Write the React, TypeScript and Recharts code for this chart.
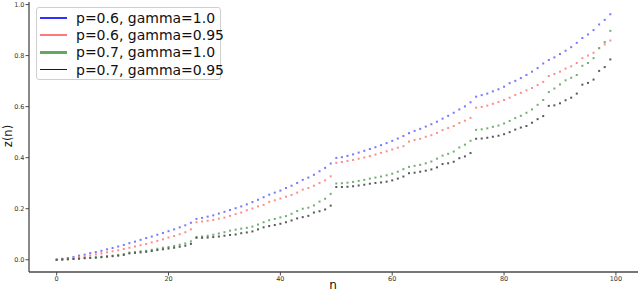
import { ScatterChart, Scatter, XAxis, YAxis } from 'recharts'

// z(n) readings per series, n = 0..99
const zP06G100 = [
  0.000, 0.004, 0.007, 0.011, 0.016, 0.020, 0.026, 0.030, 0.035, 0.041, 0.046, 0.052, 0.058, 0.065, 0.071, 0.078, 0.085, 0.091, 0.098, 0.105, 0.112, 0.119, 0.127, 0.135, 0.145,
  0.160, 0.164, 0.169, 0.174, 0.181, 0.188, 0.195, 0.202, 0.209, 0.217, 0.226, 0.235, 0.245, 0.255, 0.263, 0.271, 0.281, 0.290, 0.301, 0.313, 0.322, 0.333, 0.347, 0.360, 0.377,
  0.399, 0.402, 0.407, 0.413, 0.420, 0.427, 0.434, 0.441, 0.449, 0.457, 0.466, 0.475, 0.485, 0.496, 0.505, 0.513, 0.522, 0.531, 0.541, 0.553, 0.564, 0.576, 0.589, 0.601, 0.617,
  0.639, 0.645, 0.651, 0.660, 0.668, 0.678, 0.692, 0.701, 0.712, 0.724, 0.737, 0.751, 0.769, 0.783, 0.793, 0.806, 0.819, 0.833, 0.850, 0.869, 0.883, 0.900, 0.922, 0.940, 0.962,
]
const zP06G095 = [
  0.000, 0.002, 0.004, 0.007, 0.010, 0.013, 0.017, 0.021, 0.025, 0.029, 0.033, 0.037, 0.042, 0.047, 0.052, 0.057, 0.062, 0.068, 0.074, 0.080, 0.087, 0.093, 0.100, 0.108, 0.119,
  0.147, 0.150, 0.153, 0.156, 0.161, 0.165, 0.172, 0.179, 0.185, 0.194, 0.201, 0.209, 0.215, 0.227, 0.233, 0.240, 0.247, 0.254, 0.263, 0.275, 0.281, 0.290, 0.301, 0.311, 0.327,
  0.380, 0.383, 0.387, 0.391, 0.396, 0.401, 0.406, 0.412, 0.419, 0.425, 0.432, 0.439, 0.445, 0.463, 0.469, 0.474, 0.482, 0.488, 0.497, 0.508, 0.516, 0.524, 0.536, 0.545, 0.556,
  0.596, 0.599, 0.604, 0.611, 0.618, 0.626, 0.635, 0.646, 0.654, 0.664, 0.673, 0.685, 0.697, 0.720, 0.728, 0.737, 0.749, 0.758, 0.771, 0.790, 0.800, 0.811, 0.829, 0.844, 0.859,
]
const zP07G100 = [
  0.000, 0.001, 0.002, 0.004, 0.005, 0.007, 0.008, 0.010, 0.012, 0.014, 0.016, 0.019, 0.022, 0.028, 0.030, 0.033, 0.035, 0.039, 0.043, 0.047, 0.050, 0.054, 0.059, 0.064, 0.072,
  0.089, 0.091, 0.094, 0.098, 0.103, 0.108, 0.114, 0.118, 0.122, 0.125, 0.130, 0.138, 0.147, 0.155, 0.160, 0.166, 0.171, 0.180, 0.191, 0.200, 0.204, 0.213, 0.228, 0.239, 0.258,
  0.299, 0.300, 0.302, 0.305, 0.309, 0.313, 0.318, 0.322, 0.326, 0.331, 0.337, 0.345, 0.355, 0.364, 0.368, 0.372, 0.378, 0.385, 0.396, 0.408, 0.415, 0.424, 0.440, 0.451, 0.466,
  0.509, 0.511, 0.515, 0.521, 0.526, 0.534, 0.544, 0.555, 0.564, 0.576, 0.589, 0.607, 0.626, 0.657, 0.671, 0.687, 0.703, 0.713, 0.724, 0.760, 0.771, 0.790, 0.829, 0.853, 0.897,
]
const zP07G095 = [
  0.000, 0.001, 0.002, 0.003, 0.004, 0.006, 0.007, 0.008, 0.010, 0.012, 0.014, 0.016, 0.019, 0.025, 0.027, 0.029, 0.031, 0.034, 0.038, 0.041, 0.044, 0.047, 0.051, 0.055, 0.062,
  0.086, 0.086, 0.087, 0.089, 0.091, 0.094, 0.097, 0.099, 0.104, 0.107, 0.111, 0.119, 0.127, 0.132, 0.136, 0.141, 0.147, 0.154, 0.162, 0.167, 0.172, 0.185, 0.190, 0.197, 0.212,
  0.285, 0.285, 0.286, 0.288, 0.291, 0.294, 0.298, 0.301, 0.303, 0.306, 0.311, 0.318, 0.326, 0.339, 0.341, 0.345, 0.349, 0.354, 0.362, 0.375, 0.378, 0.384, 0.398, 0.405, 0.418,
  0.474, 0.475, 0.478, 0.482, 0.486, 0.492, 0.500, 0.510, 0.518, 0.524, 0.537, 0.551, 0.563, 0.603, 0.605, 0.613, 0.625, 0.635, 0.651, 0.686, 0.693, 0.706, 0.740, 0.755, 0.785,
]

const seriesNames = ['p=0.6, gamma=1.0', 'p=0.6, gamma=0.95', 'p=0.7, gamma=1.0', 'p=0.7, gamma=0.95']
const xTicks = [0, 20, 40, 60, 80, 100]
const yTicks = [0, 0.2, 0.4, 0.6, 0.8, 1.0]

const SERIES = [
  { name: seriesNames[0], values: zP06G100, dot: '#7878ff', line: '#3030ff', lw: 2 },
  { name: seriesNames[1], values: zP06G095, dot: '#ff8c8c', line: '#ff7878', lw: 2.5 },
  { name: seriesNames[2], values: zP07G100, dot: '#72ae72', line: '#62a862', lw: 2.5 },
  { name: seriesNames[3], values: zP07G095, dot: '#5a5a5a', line: '#1a1a1a', lw: 1.5 },
]

const FONT = '"DejaVu Sans", Verdana, sans-serif'
const AXIS = '#4a4a4a'

function Pixel(props: { cx?: number; cy?: number; fill?: string }) {
  const { cx = 0, cy = 0, fill } = props
  return <rect x={cx - 1} y={cy - 1} width={2} height={2} fill={fill} />
}

export default function App() {
  const tick = { fill: '#333', fontSize: 6.5, fontFamily: FONT }
  return (
    <div style={{ position: 'absolute', left: 0, top: 0, width: 640, height: 291, background: '#fff', overflow: 'hidden' }}>
      <ScatterChart width={640} height={291} margin={{ top: 2, right: 2, left: 0, bottom: 0 }}>
        <XAxis xAxisId="b" dataKey="n" type="number" domain={[-4.95, 103.95]} ticks={xTicks}
          allowDataOverflow height={19} tick={tick} tickSize={3.5} tickMargin={1}
          stroke={AXIS} axisLine={{ stroke: AXIS, strokeWidth: 1.3 }} />
        <XAxis xAxisId="t" orientation="top" type="number" domain={[-4.95, 103.95]} height={0}
          tick={false} tickLine={false} axisLine={{ stroke: AXIS, strokeWidth: 1.3 }} />
        <YAxis yAxisId="l" dataKey="z" type="number" domain={[-0.048, 1.01]} ticks={yTicks}
          allowDataOverflow width={29} tick={tick} tickSize={3.5} tickMargin={1}
          tickFormatter={(v: number) => v.toFixed(1)}
          stroke={AXIS} axisLine={{ stroke: AXIS, strokeWidth: 1.3 }} />
        <YAxis yAxisId="r" orientation="right" type="number" domain={[-0.048, 1.01]} width={0}
          tick={false} tickLine={false} axisLine={{ stroke: AXIS, strokeWidth: 1.3 }} />
        {SERIES.map(s => (
          <Scatter key={s.name} name={s.name} xAxisId="b" yAxisId="l"
            data={s.values.map((z, n) => ({ n, z }))}
            fill={s.dot} isAnimationActive={false}
            shape={(p: any) => <Pixel cx={p.cx} cy={p.cy} fill={s.dot} />} />
        ))}
      </ScatterChart>

      {/* legend */}
      <div style={{
        position: 'absolute', left: 36, top: 7, width: 185, height: 73, boxSizing: 'border-box',
        border: '1px solid #cfcfcf', borderRadius: 3, background: 'rgba(255,255,255,0.85)',
        fontFamily: FONT, fontSize: 14, color: '#111',
      }}>
        {SERIES.map((s, i) => (
          <div key={s.name} style={{ position: 'absolute', left: 3, top: 1 + i * 17.4, height: 17, display: 'flex', alignItems: 'center' }}>
            <div style={{ width: 27, height: s.lw, background: s.line, marginRight: 9 }} />
            <span style={{ whiteSpace: 'nowrap' }}>{s.name}</span>
          </div>
        ))}
      </div>

      {/* axis titles */}
      <div style={{
        position: 'absolute', left: 9, top: 136, transform: 'translate(-50%, -50%) rotate(-90deg)',
        fontFamily: FONT, fontSize: 11.5, color: '#111', whiteSpace: 'nowrap', lineHeight: 1,
      }}>z(n)</div>
      <div style={{
        position: 'absolute', left: 333, top: 284.5, transform: 'translate(-50%, -50%)',
        fontFamily: FONT, fontSize: 12, color: '#111', lineHeight: 1,
      }}>n</div>
    </div>
  )
}
